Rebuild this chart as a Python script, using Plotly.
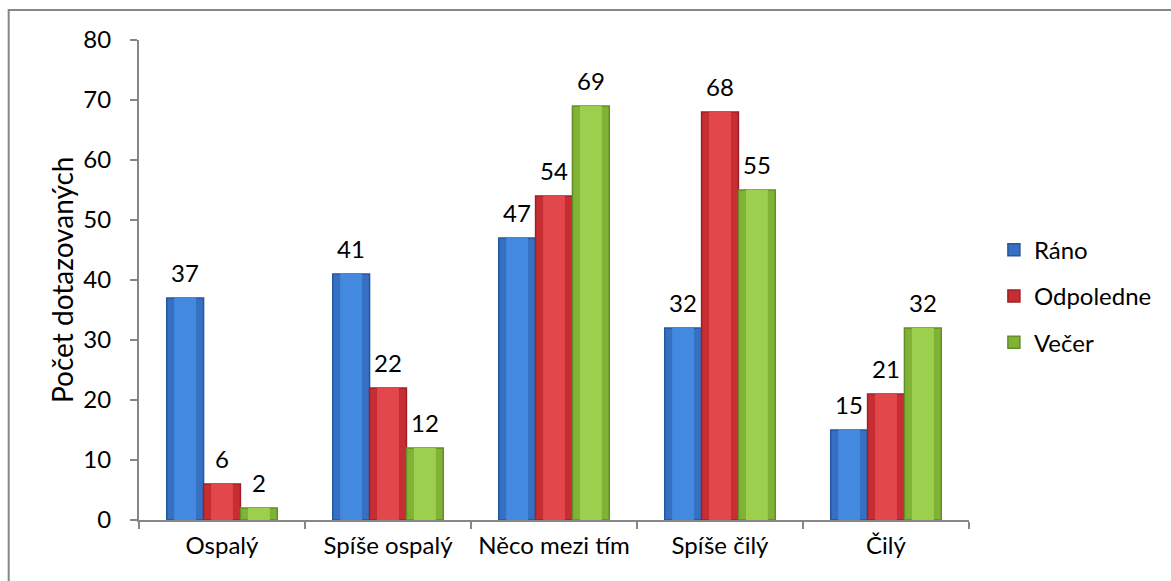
import plotly.graph_objects as go

# Survey: how alert respondents feel at different times of day
categories = ["Ospalý", "Spíše ospalý", "Něco mezi tím", "Spíše čilý", "Čilý"]
series_names = ["Ráno", "Odpoledne", "Večer"]
rano = [37, 41, 47, 32, 15]
odpoledne = [6, 22, 54, 68, 21]
vecer = [2, 12, 69, 55, 32]

y_ticks = [0, 10, 20, 30, 40, 50, 60, 70, 80]

series_values = [rano, odpoledne, vecer]
# (edge line, body fill, bright centre) for each series -> bevelled look
palette = [
    ("#25579c", "#3570c2", "#4389e0"),
    ("#9e2026", "#c72e33", "#e2474b"),
    ("#638d25", "#80b236", "#9ccf4e"),
]

FONT = "Lato"
LABEL_SIZE = 24
bar_w = 0.222           # width of one bar in category units
group_start = -1.5 * bar_w

fig = go.Figure()

for k, (name, vals) in enumerate(zip(series_names, series_values)):
    edge, body, centre = palette[k]
    off = group_start + k * bar_w
    # bar body, also used for the legend entry
    fig.add_trace(go.Bar(
        x=categories, y=vals, name=name,
        offset=off, width=bar_w,
        marker=dict(color=body, line=dict(color=edge, width=1.5)),
        legendgroup=name, showlegend=True,
    ))
    # brighter centre stripe
    fig.add_trace(go.Bar(
        x=categories, y=vals, name=name,
        offset=off + 0.045, width=bar_w - 0.09,
        marker=dict(color=centre, line=dict(width=0)),
        legendgroup=name, showlegend=False, hoverinfo="skip",
    ))
    # value labels above each bar
    for i, v in enumerate(vals):
        fig.add_annotation(
            x=i + off + bar_w / 2, y=v, xref="x", yref="y",
            text=str(v), showarrow=False, yshift=26,
            font=dict(family=FONT, size=LABEL_SIZE, color="#000000"),
        )

# y-axis title
fig.add_annotation(
    x=-0.0928, y=0.5, xref="paper", yref="paper",
    xanchor="center", yanchor="middle",
    text="Počet dotazovaných", textangle=-90, showarrow=False,
    font=dict(family=FONT, size=28, color="#000000"),
)

# chart frame
fig.add_shape(
    type="rect", xref="paper", yref="paper",
    x0=-0.157, x1=1.3, y0=-0.2, y1=1.0625,
    line=dict(color="#878787", width=2), fillcolor="rgba(0,0,0,0)",
    layer="below",
)

fig.update_layout(
    width=1171, height=581,
    margin=dict(l=139, r=202, t=40, b=61),
    paper_bgcolor="white", plot_bgcolor="white",
    barmode="overlay",
    font=dict(family=FONT, size=LABEL_SIZE, color="#000000"),
    legend=dict(
        x=1.03, y=0.609, xanchor="left", yanchor="top",
        font=dict(family=FONT, size=LABEL_SIZE),
        traceorder="grouped", tracegroupgap=12,
        itemwidth=30,
    ),
    xaxis=dict(
        type="category", range=[-0.5, 4.5],
        showline=True, linecolor="#878787", linewidth=2,
        ticks="outside", ticklen=7, tickcolor="#878787", tickwidth=2,
        tickson="boundaries", showgrid=False, zeroline=False,
        ticklabelstandoff=3,
        tickfont=dict(family=FONT, size=LABEL_SIZE),
    ),
    yaxis=dict(
        range=[0, 80], tickvals=y_ticks,
        showline=True, linecolor="#878787", linewidth=2,
        ticks="outside", ticklen=7, tickcolor="#878787", tickwidth=2,
        showgrid=False, zeroline=False, ticklabelstandoff=14,
        tickfont=dict(family=FONT, size=LABEL_SIZE),
    ),
)

fig.write_html("out.html")
